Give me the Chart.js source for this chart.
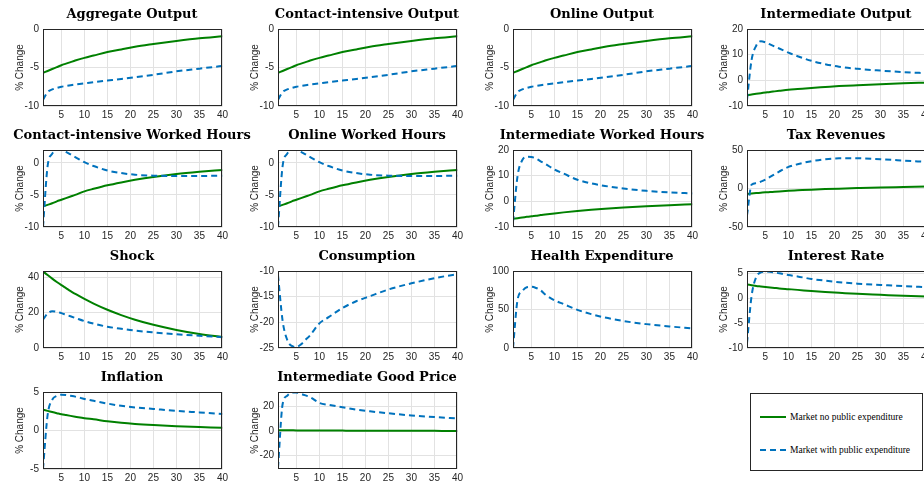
<!DOCTYPE html>
<html>
<head>
<meta charset="utf-8">
<script src="https://cdn.jsdelivr.net/npm/chart.js@4.4.1/dist/chart.umd.min.js"></script>
<style>
  html, body { margin: 0; padding: 0; background: #fff; overflow: hidden; }
  #fig { position: relative; width: 924px; height: 485px; overflow: hidden; background: #fff; }
  .panel { position: absolute; }
  .ptitle { position: absolute; text-align: center; white-space: nowrap; color: #000;
            font-family: "DejaVu Serif", serif; font-weight: bold; font-size: 13px; line-height: 16px; }
  .legend { position: absolute; left: 750px; top: 393px; width: 171px; height: 76px;
            border: 1px solid #262626; background: #fff; font-family: "Liberation Serif", "Times New Roman", serif;
            font-size: 9.5px; color: #000; }
  .legend .row { position: absolute; left: 0; height: 12px; line-height: 12px; white-space: nowrap; }
  .legend svg { position: absolute; left: 8px; top: 0; }
  .legend span { position: absolute; left: 39px; top: 0; }
</style>
</head>
<body>
<div id="fig"></div>
<script>
// Quarters after the shock at which each impulse response is sampled
const periods = [1, 2, 3, 4, 5, 6, 7, 8, 10, 12, 15, 18, 21, 25, 30, 35, 40];
const xTicks = [5, 10, 15, 20, 25, 30, 35, 40];

const seriesNames = ["Market no public expenditure", "Market with public expenditure"];

// "no" = market with no public expenditure, "with" = market with public expenditure
const aggregateOutputNo   = [-5.7, -5.45, -5.2, -4.95, -4.7, -4.5, -4.3, -4.1, -3.75, -3.45, -3.0, -2.65, -2.3, -1.95, -1.55, -1.2, -0.95];
const aggregateOutputWith = [-9.2, -8.2, -7.85, -7.65, -7.5, -7.4, -7.3, -7.2, -7.05, -6.9, -6.7, -6.5, -6.25, -5.95, -5.5, -5.15, -4.8];

const contactOutputNo   = [-5.7, -5.45, -5.2, -4.95, -4.7, -4.5, -4.3, -4.1, -3.75, -3.45, -3.0, -2.65, -2.3, -1.95, -1.55, -1.2, -0.95];
const contactOutputWith = [-9.2, -8.2, -7.85, -7.65, -7.5, -7.4, -7.3, -7.2, -7.05, -6.9, -6.7, -6.5, -6.25, -5.95, -5.5, -5.15, -4.8];

const onlineOutputNo   = [-5.7, -5.45, -5.2, -4.95, -4.7, -4.5, -4.3, -4.1, -3.75, -3.45, -3.0, -2.65, -2.3, -1.95, -1.55, -1.2, -0.95];
const onlineOutputWith = [-9.2, -8.2, -7.85, -7.65, -7.5, -7.4, -7.3, -7.2, -7.05, -6.9, -6.7, -6.5, -6.25, -5.95, -5.5, -5.15, -4.8];

const intermOutputNo   = [-5.8, -5.5, -5.25, -5.0, -4.75, -4.5, -4.3, -4.1, -3.7, -3.4, -2.95, -2.6, -2.25, -1.9, -1.5, -1.15, -0.9];
const intermOutputWith = [-7.5, 8.0, 13.5, 15.2, 14.8, 14.0, 13.2, 12.4, 10.8, 9.4, 7.6, 6.3, 5.3, 4.5, 3.8, 3.2, 2.8];

const contactHoursNo   = [-6.8, -6.55, -6.3, -6.0, -5.75, -5.5, -5.25, -5.0, -4.45, -4.05, -3.5, -3.05, -2.65, -2.2, -1.75, -1.4, -1.1];
const contactHoursWith = [-10.0, -0.5, 1.4, 2.0, 2.0, 1.7, 1.3, 0.9, 0.1, -0.5, -1.2, -1.6, -1.85, -2.0, -2.05, -2.05, -2.0];

const onlineHoursNo   = [-6.8, -6.55, -6.3, -6.0, -5.75, -5.5, -5.25, -5.0, -4.45, -4.05, -3.5, -3.05, -2.65, -2.2, -1.75, -1.4, -1.1];
const onlineHoursWith = [-10.0, -0.5, 1.4, 2.0, 2.0, 1.7, 1.3, 0.9, 0.1, -0.5, -1.2, -1.6, -1.85, -2.0, -2.05, -2.05, -2.0];

const intermHoursNo   = [-6.8, -6.55, -6.3, -6.05, -5.8, -5.6, -5.35, -5.15, -4.7, -4.3, -3.75, -3.25, -2.85, -2.4, -1.9, -1.5, -1.15];
const intermHoursWith = [-8.0, 10.0, 16.0, 17.4, 17.3, 16.7, 15.6, 14.6, 12.4, 10.8, 8.4, 7.0, 6.0, 5.0, 4.1, 3.5, 3.1];

const taxRevenuesNo   = [-7.0, -6.5, -6.0, -5.5, -5.0, -4.6, -4.2, -3.8, -3.0, -2.4, -1.5, -0.8, -0.2, 0.5, 1.3, 1.9, 2.5];
const taxRevenuesWith = [-35.0, 5.0, 7.0, 9.0, 11.6, 15.0, 18.5, 22.0, 28.0, 31.5, 35.5, 38.0, 39.2, 39.2, 38.0, 36.3, 34.5];

const shockNo   = [43.3, 41.2, 39.2, 37.3, 35.5, 33.8, 32.1, 30.6, 27.7, 25.1, 21.6, 18.6, 16.0, 13.1, 10.2, 7.9, 6.2];
const shockWith = [16.0, 19.5, 20.8, 20.5, 19.7, 18.8, 17.9, 17.0, 15.2, 13.8, 12.0, 10.9, 9.8, 8.8, 7.8, 6.9, 6.1];

const consumptionWith = [-10.8, -19.7, -23.4, -24.6, -24.8, -24.3, -23.4, -22.5, -20.2, -19.0, -17.2, -15.9, -14.9, -13.6, -12.4, -11.4, -10.6];

const healthSpendingWith = [0, 63, 74, 79, 79.5, 78, 75, 69.5, 62, 57, 49.5, 44, 39.5, 35, 31, 28, 25.5];

const interestRateNo   = [2.8, 2.65, 2.5, 2.4, 2.3, 2.2, 2.1, 2.0, 1.85, 1.7, 1.45, 1.25, 1.1, 0.9, 0.7, 0.5, 0.35];
const interestRateWith = [-9.0, 0.5, 4.3, 5.2, 5.4, 5.35, 5.2, 5.05, 4.7, 4.4, 3.9, 3.55, 3.25, 2.95, 2.7, 2.45, 2.25];

const inflationNo   = [2.7, 2.55, 2.4, 2.25, 2.1, 2.0, 1.9, 1.8, 1.6, 1.45, 1.2, 1.0, 0.85, 0.7, 0.55, 0.45, 0.35];
const inflationWith = [-5.0, 2.0, 4.0, 4.5, 4.65, 4.6, 4.5, 4.4, 4.1, 3.85, 3.5, 3.2, 3.0, 2.8, 2.55, 2.35, 2.15];

const intermPriceNo   = [0.8, 0.75, 0.7, 0.65, 0.6, 0.58, 0.55, 0.52, 0.48, 0.45, 0.4, 0.35, 0.32, 0.28, 0.24, 0.2, 0.18];
const intermPriceWith = [-30.0, 22.0, 29.0, 31.5, 31.5, 30.5, 29.2, 27.8, 23.0, 21.5, 19.5, 17.6, 16.2, 14.6, 12.8, 11.5, 10.3];

// y-axis tick labels per panel
const ticksOutput  = [-10, -5, 0];
const ticksInterm  = [-10, 0, 10, 20];
const ticksHours   = [-10, -5, 0];
const ticksTax     = [-50, 0, 50];
const ticksShock   = [0, 20, 40];
const ticksCons    = [-25, -20, -15, -10];
const ticksHealth  = [0, 50, 100];
const ticksRate    = [-10, -5, 0, 5];
const ticksInfl    = [-5, 0, 5];
const ticksPrice   = [-20, 0, 20];

const panels = [
  { title: "Aggregate Output",               row: 0, col: 0, yMin: -10, yMax: 0,    yTicks: ticksOutput, no: aggregateOutputNo, with: aggregateOutputWith },
  { title: "Contact-intensive Output",       row: 0, col: 1, yMin: -10, yMax: 0,    yTicks: ticksOutput, no: contactOutputNo,   with: contactOutputWith },
  { title: "Online Output",                  row: 0, col: 2, yMin: -10, yMax: 0,    yTicks: ticksOutput, no: onlineOutputNo,    with: onlineOutputWith },
  { title: "Intermediate Output",            row: 0, col: 3, yMin: -10, yMax: 20,   yTicks: ticksInterm, no: intermOutputNo,    with: intermOutputWith },
  { title: "Contact-intensive Worked Hours", row: 1, col: 0, yMin: -10, yMax: 2,    yTicks: ticksHours,  no: contactHoursNo,    with: contactHoursWith },
  { title: "Online Worked Hours",            row: 1, col: 1, yMin: -10, yMax: 2,    yTicks: ticksHours,  no: onlineHoursNo,     with: onlineHoursWith },
  { title: "Intermediate Worked Hours",      row: 1, col: 2, yMin: -10, yMax: 20,   yTicks: ticksInterm, no: intermHoursNo,     with: intermHoursWith },
  { title: "Tax Revenues",                   row: 1, col: 3, yMin: -50, yMax: 50,   yTicks: ticksTax,    no: taxRevenuesNo,     with: taxRevenuesWith },
  { title: "Shock",                          row: 2, col: 0, yMin: 0,   yMax: 43.5, yTicks: ticksShock,  no: shockNo,           with: shockWith },
  { title: "Consumption",                    row: 2, col: 1, yMin: -25, yMax: -10,  yTicks: ticksCons,   no: null,              with: consumptionWith },
  { title: "Health Expenditure",             row: 2, col: 2, yMin: 0,   yMax: 100,  yTicks: ticksHealth, no: null,              with: healthSpendingWith },
  { title: "Interest Rate",                  row: 2, col: 3, yMin: -10, yMax: 5.5,  yTicks: ticksRate,   no: interestRateNo,    with: interestRateWith },
  { title: "Inflation",                      row: 3, col: 0, yMin: -5,  yMax: 5,    yTicks: ticksInfl,   no: inflationNo,       with: inflationWith },
  { title: "Intermediate Good Price",        row: 3, col: 1, yMin: -31, yMax: 32,   yTicks: ticksPrice,  no: intermPriceNo,     with: intermPriceWith }
];

// Grid geometry of the small multiples (plot-area edges in page pixels)
const plotLeft = [43, 278, 513, 747];
const plotTop = [27, 148, 269, 390];
const plotW = 178, plotH = 79;
const axisW = 45, topPad = 8, xAxisH = 18, rightRoom = 10;

const GREEN = "#008000";
const BLUE = "#0072BD";
const AXIS = "#262626";
const GRID = "#e2e2e2";

// Closed box round the plot area, like a boxed axes
const boxPlugin = {
  id: "axesBox",
  afterDatasetsDraw(chart) {
    const { ctx, chartArea: a } = chart;
    ctx.save();
    ctx.strokeStyle = AXIS;
    ctx.lineWidth = 1;
    ctx.strokeRect(Math.round(a.left) + 0.5, Math.round(a.top) + 0.5,
                   Math.round(a.right - a.left) - 1, Math.round(a.bottom - a.top) - 1);
    ctx.restore();
  }
};

const fig = document.getElementById("fig");

panels.forEach(p => {
  const wrap = document.createElement("div");
  wrap.className = "panel";
  const w = axisW + plotW + rightRoom;
  const h = topPad + plotH + xAxisH;
  wrap.style.left = (plotLeft[p.col] - axisW) + "px";
  wrap.style.top = (plotTop[p.row] - topPad) + "px";
  wrap.style.width = w + "px";
  wrap.style.height = h + "px";
  const cv = document.createElement("canvas");
  cv.width = w; cv.height = h;
  cv.style.width = w + "px"; cv.style.height = h + "px";
  wrap.appendChild(cv);
  fig.appendChild(wrap);

  // Panel heading, centred over the plot area
  const t = document.createElement("div");
  t.className = "ptitle";
  t.textContent = p.title;
  t.style.left = (plotLeft[p.col] - 80) + "px";
  t.style.width = (plotW + 160) + "px";
  t.style.top = (plotTop[p.row] - 21) + "px";
  fig.appendChild(t);

  const datasets = [];
  datasets.push({
    label: seriesNames[1],
    data: periods.map((x, i) => ({ x, y: p.with[i] })),
    borderColor: BLUE, borderWidth: 2, borderDash: [6, 4],
    pointRadius: 0, cubicInterpolationMode: "monotone", fill: false, order: 0
  });
  if (p.no) {
    datasets.push({
      label: seriesNames[0],
      data: periods.map((x, i) => ({ x, y: p.no[i] })),
      borderColor: GREEN, borderWidth: 2,
      pointRadius: 0, cubicInterpolationMode: "monotone", fill: false, order: 1
    });
  }

  new Chart(cv, {
    type: "line",
    data: { datasets },
    plugins: [boxPlugin],
    options: {
      responsive: false,
      animation: false,
      devicePixelRatio: 1,
      layout: { padding: { left: 0, right: 0, top: topPad, bottom: 0 } },
      plugins: {
        legend: { display: false },
        tooltip: { enabled: false },
        title: { display: false }
      },
      scales: {
        x: {
          type: "linear", min: 1, max: 40,
          afterBuildTicks: s => { s.ticks = xTicks.map(v => ({ value: v })); },
          afterFit: s => { s.height = xAxisH; },
          grid: { color: GRID, drawTicks: false },
          border: { display: false },
          ticks: { color: AXIS, padding: 3, maxRotation: 0, autoSkip: false,
                   font: { family: "'Liberation Sans', Arial, sans-serif", size: 10 } }
        },
        y: {
          type: "linear", min: p.yMin, max: p.yMax,
          afterBuildTicks: s => { s.ticks = p.yTicks.map(v => ({ value: v })); },
          afterFit: s => { s.width = axisW; },
          grid: { color: GRID, drawTicks: false },
          border: { display: false },
          title: { display: true, text: "% Change", color: AXIS, padding: { top: 16, bottom: 0 },
                   font: { family: "'Liberation Sans', Arial, sans-serif", size: 10 } },
          ticks: { color: AXIS, padding: 4, autoSkip: false,
                   font: { family: "'Liberation Sans', Arial, sans-serif", size: 10 } }
        }
      }
    }
  });
});

// Legend box in the empty corner of the grid
const legend = document.createElement("div");
legend.className = "legend";
const legendRows = [
  { name: seriesNames[0], color: GREEN, dash: "", top: 17 },
  { name: seriesNames[1], color: BLUE, dash: "6 4", top: 50 }
];
legendRows.forEach(r => {
  const row = document.createElement("div");
  row.className = "row";
  row.style.top = r.top + "px";
  row.style.width = "171px";
  row.innerHTML =
    '<svg width="28" height="12"><line x1="1" y1="6" x2="27" y2="6" stroke="' + r.color +
    '" stroke-width="2"' + (r.dash ? ' stroke-dasharray="' + r.dash + '"' : '') + '/></svg>' +
    '<span></span>';
  row.querySelector("span").textContent = r.name;
  legend.appendChild(row);
});
fig.appendChild(legend);
</script>
</body>
</html>
